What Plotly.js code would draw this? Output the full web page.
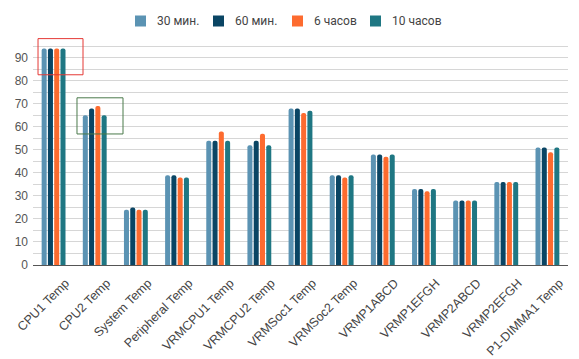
<!DOCTYPE html>
<html>
<head>
<meta charset="utf-8">
<script src="https://cdn.plot.ly/plotly-3.0.1.min.js"></script>
<style>html,body{margin:0;padding:0;background:#fff;}#chart{width:579px;height:359px;}</style>
</head>
<body>
<div id="chart"></div>
<script>
const categories = ["CPU1 Temp","CPU2 Temp","System Temp","Peripheral Temp","VRMCPU1 Temp","VRMCPU2 Temp","VRMSoc1 Temp","VRMSoc2 Temp","VRMP1ABCD","VRMP1EFGH","VRMP2ABCD","VRMP2EFGH","P1-DIMMA1 Temp"];
const seriesNames = ["30 мин.","60 мин.","6 часов","10 часов"];
const min30  = [94, 65, 24, 39, 54, 52, 68, 39, 48, 33, 28, 36, 51];
const min60  = [94, 68, 25, 39, 54, 54, 68, 39, 48, 33, 28, 36, 51];
const hours6 = [94, 69, 24, 38, 58, 57, 66, 38, 47, 32, 28, 36, 49];
const hours10= [94, 65, 24, 38, 54, 52, 67, 39, 48, 33, 28, 36, 51];
const colors = ["#5b93b3","#0a4564","#fd6b2f","#1f7783"];
const seriesValues = [min30, min60, hours6, hours10];

const W = 579, H = 359;
const M = {l: 33, r: 11, t: 37, b: 94};
const plotW = W - M.l - M.r, plotH = H - M.t - M.b;
const px2x = p => (p - M.l) / plotW;
const px2y = p => (H - M.b - p) / plotH;

const traces = seriesValues.map((vals, i) => ({
  type: "bar",
  name: seriesNames[i],
  x: categories,
  y: vals,
  marker: {color: colors[i], cornerradius: 2},
  hoverinfo: "skip",
  showlegend: false
}));

// manual legend (squares + text) laid out like the reference
const legendX = [135, 213, 292, 370];
const legendShapes = legendX.map((lx, i) => ({
  type: "rect", xref: "paper", yref: "paper",
  x0: px2x(lx), x1: px2x(lx + 11), y0: px2y(26.5), y1: px2y(15.5),
  line: {width: 0}, fillcolor: colors[i]
}));
const legendAnn = legendX.map((lx, i) => ({
  xref: "paper", yref: "paper", x: px2x(lx + 20), y: px2y(21),
  xanchor: "left", yanchor: "middle", showarrow: false,
  text: seriesNames[i], font: {family: "Roboto, sans-serif", size: 12, color: "#444"}
}));

const layout = {
  width: W, height: H,
  margin: M,
  paper_bgcolor: "#fff", plot_bgcolor: "#fff",
  barmode: "group",
  bargap: 0.39,
  bargroupgap: 0.2,
  font: {family: "Liberation Sans, Arial, sans-serif", color: "#444"},
  showlegend: false,
  xaxis: {
    tickangle: -45, tickfont: {size: 12.5, color: "#444"},
    showline: true, linecolor: "#555", linewidth: 1,
    ticks: "", showgrid: false, ticklabelshift: 12, ticklabelstandoff: 5
  },
  yaxis: {
    range: [0, 99], dtick: 10, tick0: 0,
    showgrid: true, gridcolor: "#d6d6d6", gridwidth: 1,
    minor: {dtick: 5, showgrid: true, gridcolor: "#d6d6d6", gridwidth: 1},
    zeroline: false, showline: false, ticks: "",
    tickfont: {size: 12, color: "#555"}, ticklabelstandoff: 4
  },
  annotations: legendAnn,
  shapes: [
    {type: "rect", xref: "x", yref: "y", x0: -0.378, x1: 0.715, y0: 82.6, y1: 98.3,
     line: {color: "#e53935", width: 1}, fillcolor: "rgba(0,0,0,0)"},
    {type: "rect", xref: "x", yref: "y", x0: 0.569, x1: 1.687, y0: 56.9, y1: 72.6,
     line: {color: "#4a7a4a", width: 1}, fillcolor: "rgba(0,0,0,0)"}
  ].concat(legendShapes)
};

Plotly.newPlot("chart", traces, layout, {displayModeBar: false, staticPlot: true});
</script>
</body>
</html>
